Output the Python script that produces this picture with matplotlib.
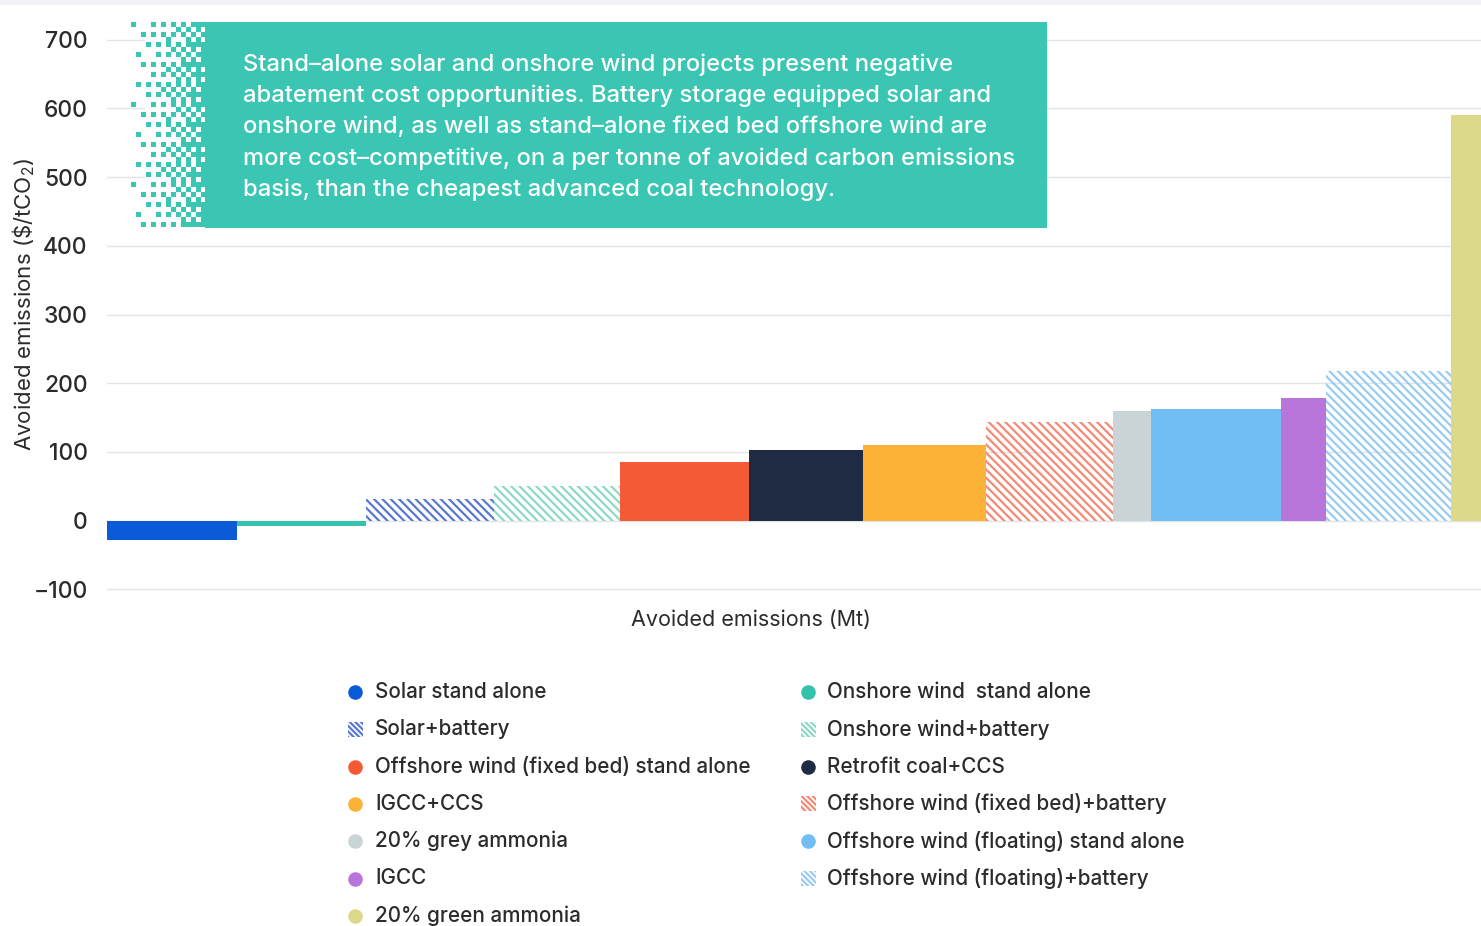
import matplotlib.pyplot as plt
from matplotlib.patches import Rectangle
from matplotlib.collections import PatchCollection
import numpy as np

plt.rcParams['font.family'] = ['Inter', 'DejaVu Sans']
plt.rcParams['font.weight'] = 'medium'
plt.rcParams['mathtext.fontset'] = 'custom'
plt.rcParams['mathtext.rm'] = 'Inter'
plt.rcParams['mathtext.default'] = 'regular'
plt.rcParams['hatch.linewidth'] = 1.6

# technologies in merit order (cheapest abatement first)
labels = ['Solar stand alone', 'Onshore wind  stand alone', 'Solar+battery',
          'Onshore wind+battery', 'Offshore wind (fixed bed) stand alone',
          'Retrofit coal+CCS', 'IGCC+CCS', 'Offshore wind (fixed bed)+battery',
          '20% grey ammonia', 'Offshore wind (floating) stand alone', 'IGCC',
          'Offshore wind (floating)+battery', '20% green ammonia']
# avoided emissions (Mt) -> bar widths
avoided = [13.0, 12.9, 12.8, 12.6, 12.9, 11.4, 12.3, 12.7, 3.8, 13.0, 4.5, 12.5, 6.0]
# abatement cost ($/tCO2) -> bar heights
cost = [-28, -8, 31, 50, 85, 103, 110, 143, 160, 162, 178, 218, 590]

colors = ['#0b5bd7', '#35c2ad', '#5a79d0', '#8dd8c6', '#f55a36', '#1e2b42',
          '#fcb236', '#f28a76', '#c9d4d7', '#72bdf3', '#b876db', '#9acbf0', '#dcd98b']
hatched = [False, False, True, True, False, False, False, True, False, False, False, True, False]

note = ['Stand\u2013alone solar and onshore wind projects present negative',
        'abatement cost opportunities. Battery storage equipped solar and',
        'onshore wind, as well as stand\u2013alone fixed bed offshore wind are',
        'more cost\u2013competitive, on a per tonne of avoided carbon emissions',
        'basis, than the cheapest advanced coal technology.']

W, H = 1481, 926
fig = plt.figure(figsize=(W / 100, H / 100), dpi=100)
ax = fig.add_axes([107 / W, 0.3561, 1 - 107 / W, 0.6084])

left = np.concatenate([[0], np.cumsum(avoided)[:-1]])
for i in range(len(labels)):
    if hatched[i]:
        ax.bar(left[i], cost[i], width=avoided[i], align='edge', facecolor='none',
               edgecolor=colors[i], linewidth=0, hatch='\\\\\\\\', zorder=2)
    else:
        ax.bar(left[i], cost[i], width=avoided[i], align='edge', color=colors[i],
               linewidth=0, zorder=2)

ax.set_xlim(0, 137.4)
ax.set_ylim(-110, 710)
ax.set_yticks(np.arange(-100, 701, 100))
ax.set_xticks([])
ax.grid(axis='y', color='#e2e4e8', linewidth=1.0, zorder=0)
ax.set_axisbelow(True)
for s in ax.spines.values():
    s.set_visible(False)
ax.tick_params(axis='y', length=0, pad=14, labelsize=16.5, labelcolor='#2b2b2b')
ax.set_ylabel('Avoided emissions (\\$/tCO$_2$)', fontsize=16, color='#2b2b2b',
              va='center')
ax.yaxis.set_label_coords(-0.0605, 0.517)
ax.set_xlabel('Avoided emissions (Mt)', fontsize=15.5, color='#2b2b2b', va='center')
ax.xaxis.set_label_coords(0.4687, -0.042)

# overlay in pixel coordinates for the note box and legend
ov = fig.add_axes([0, 0, 1, 1], zorder=5)
ov.set_xlim(0, W)
ov.set_ylim(H, 0)
ov.axis('off')
ov.patch.set_alpha(0)

ov.add_patch(Rectangle((0, 0), W, 5, color='#f2f3f7', lw=0))
ov.add_patch(Rectangle((145, 22), 60, 206, color='white', lw=0))
ov.add_patch(Rectangle((205, 22), 842, 206, color='#3ac6b2', lw=0))

# ordered dither fading into the box
bayer = np.array([[0, 8, 2, 10], [12, 4, 14, 6], [3, 11, 1, 9], [15, 7, 13, 5]])
dots = []
for c in range(15):
    d = 0.08 + 0.66 * (c / 14) ** 1.2
    for r in range(41):
        if (bayer[r % 4, (c + r // 4) % 4] + 0.5) / 16 < d:
            dots.append(Rectangle((131 + 5 * c, 22 + 5 * r), 4.5, 4.5))
ov.add_collection(PatchCollection(dots, facecolor='#3ac6b2', edgecolor='none'))

for k, line in enumerate(note):
    ov.text(243, 70.7 + 31.3 * k, line, color='white', fontsize=17.1,
            va='baseline', ha='left')

# legend, filled row by row in two columns
for i, lab in enumerate(labels):
    row, col = divmod(i, 2)
    y = 692 + 37.3 * row
    mx = 355 if col == 0 else 808
    tx = 375 if col == 0 else 827
    if hatched[i]:
        ov.add_patch(Rectangle((mx - 7.5, y - 7.5), 15, 15, facecolor='none',
                               edgecolor=colors[i], lw=0, hatch='\\' * 6))
    else:
        ov.scatter([mx], [y], s=110, color=colors[i], linewidths=0)
    ov.text(tx, y, lab, fontsize=14.9, color='#2b2b2b', va='center', ha='left')

fig.savefig('out.png', dpi=100)
